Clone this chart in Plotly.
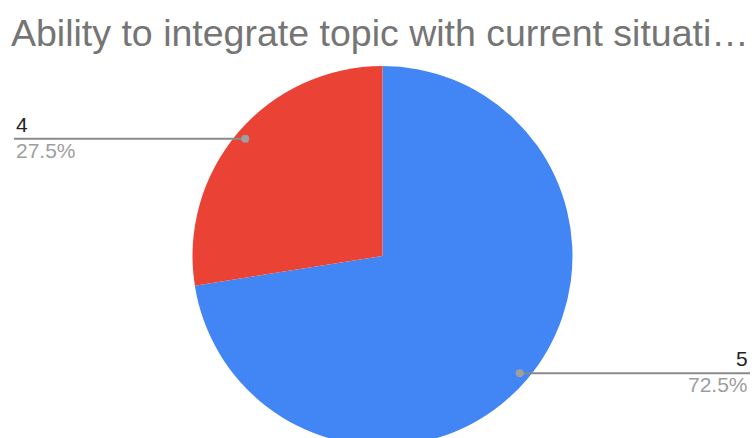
import math
import plotly.graph_objects as go

# ---- data ----
labels = ["5", "4"]
values = [72.5, 27.5]
colors = ["#4285F4", "#EA4335"]
title_text = "Ability to integrate topic with current situati…"

# ---- layout geometry (pixels) ----
W, H = 755, 470
CX, CY, R = 382.5, 256, 190
LEFT_X, RIGHT_X = 14, 750
DOT_FRAC = 0.95


def px(x):
    return x / W


def py(y):
    return 1 - y / H


fig = go.Figure()
fig.add_trace(go.Pie(
    labels=labels,
    values=values,
    marker=dict(colors=colors, line=dict(width=0)),
    sort=False,
    direction="clockwise",
    rotation=0,
    textinfo="none",
    hoverinfo="label+percent",
    showlegend=False,
    domain=dict(x=[px(CX - R), px(CX + R)], y=[py(CY + R), py(CY - R)]),
))

total = sum(values)
cum = 0
shapes = []
annotations = []
for lab, v in zip(labels, values):
    mid = (cum + v / 2) / total
    cum += v
    ang = 2 * math.pi * mid
    dx = math.sin(ang) * R * DOT_FRAC
    dy = -math.cos(ang) * R * DOT_FRAC
    x0, y0 = CX + dx, CY + dy
    right = dx > 0
    xe = RIGHT_X if right else LEFT_X
    shapes.append(dict(type="line", xref="paper", yref="paper",
                       x0=px(x0), x1=px(xe), y0=py(y0), y1=py(y0),
                       line=dict(color="#8a8a8a", width=2)))
    shapes.append(dict(type="circle", xref="paper", yref="paper",
                       x0=px(x0 - 4), x1=px(x0 + 4), y0=py(y0 + 4), y1=py(y0 - 4),
                       fillcolor="#9e9e9e", line=dict(width=0)))
    anchor = "right" if right else "left"
    annotations.append(dict(x=px(xe), y=py(y0 - 1), xref="paper", yref="paper",
                            text=lab, showarrow=False, xanchor=anchor, yanchor="bottom",
                            font=dict(family="Liberation Sans, Arial", size=21, color="#222222")))
    annotations.append(dict(x=px(xe), y=py(y0 - 2), xref="paper", yref="paper",
                            text=f"{v / total * 100:.1f}%", showarrow=False,
                            xanchor=anchor, yanchor="top",
                            font=dict(family="Liberation Sans, Arial", size=21, color="#9e9e9e")))

fig.update_layout(
    width=W, height=H,
    margin=dict(l=0, r=0, t=0, b=0),
    paper_bgcolor="white",
    plot_bgcolor="white",
    title=dict(text=title_text, x=11 / W, xanchor="left", y=py(33), yanchor="middle",
               font=dict(family="Liberation Sans, Arial", size=37.5, color="#757575")),
    shapes=shapes,
    annotations=annotations,
)

fig.write_html("out.html", config={"displayModeBar": False},
               post_script="document.body.style.margin='0';document.body.style.overflow='hidden';document.documentElement.style.overflow='hidden';")
